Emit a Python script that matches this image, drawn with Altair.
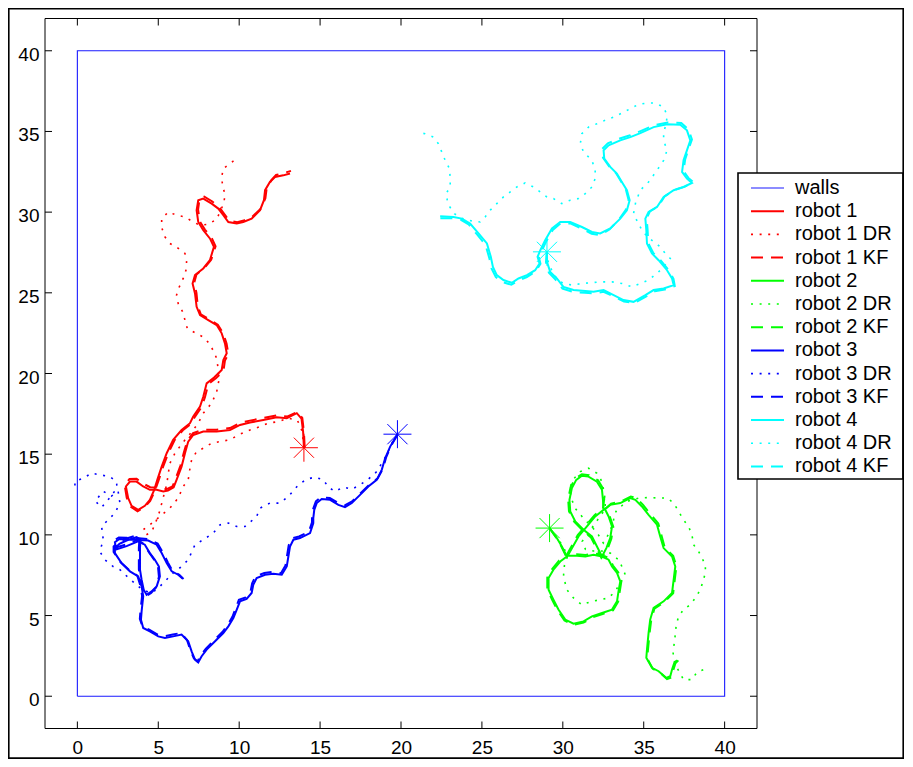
import altair as alt
import pandas as pd

TICKS = [0, 5, 10, 15, 20, 25, 30, 35, 40]

WALLS_X = [0, 40, 40, 0, 0]
WALLS_Y = [0, 0, 40, 40, 0]

# ---------------- robot 1 (red) ----------------
R1_X = [14.00, 13.95, 13.85, 13.56, 12.94, 12.32, 11.49, 10.67, 10.05, 9.43, 8.61, 7.78, 7.16, 6.85, 6.65, 6.44, 6.13, 5.95, 5.60, 5.31, 4.90, 4.48, 4.07, 3.66, 3.25, 3.00, 3.14, 3.35, 3.76, 4.17, 4.48, 4.75, 4.94, 5.21, 5.52, 5.92, 6.44, 6.96, 7.16, 7.58, 7.78, 7.99, 8.45, 8.92, 9.02, 9.23, 9.12, 8.92, 8.61, 8.09, 7.58, 7.37, 7.27, 7.12, 7.27, 7.78, 8.19, 8.44, 8.19, 7.78, 7.47, 7.37, 7.47, 7.78, 8.30, 8.71, 9.02, 9.33, 9.85, 10.25, 10.77, 11.29, 11.53, 11.60, 11.90, 12.21, 12.73, 13.14]
R1_Y = [15.40, 16.40, 17.20, 17.54, 17.23, 17.29, 17.12, 16.96, 16.81, 16.50, 16.40, 16.40, 16.19, 15.78, 15.06, 14.23, 13.41, 12.95, 12.75, 12.69, 12.79, 12.79, 13.00, 13.30, 13.30, 13.00, 12.28, 11.80, 11.55, 11.80, 12.17, 12.79, 13.41, 14.23, 15.06, 15.89, 16.50, 16.92, 17.33, 17.95, 18.56, 19.39, 19.75, 20.22, 20.84, 21.25, 21.87, 22.49, 23.00, 23.31, 23.62, 24.13, 24.96, 25.58, 26.10, 26.51, 27.02, 27.85, 28.37, 28.88, 29.39, 30.12, 30.74, 30.84, 30.53, 30.22, 29.81, 29.39, 29.29, 29.39, 29.60, 30.12, 30.74, 31.36, 31.87, 32.18, 32.28, 32.39]
R1KF_X = [14.05, 14.00, 13.90, 13.60, 12.96, 12.30, 11.47, 10.66, 10.03, 9.43, 8.60, 7.78, 7.15, 6.80, 6.58, 6.36, 6.05, 5.88, 5.58, 5.31, 4.92, 4.50, 4.08, 3.66, 3.22, 2.92, 3.05, 3.28, 3.72, 4.16, 4.50, 4.80, 5.02, 5.30, 5.62, 6.02, 6.52, 7.03, 7.24, 7.66, 7.88, 8.10, 8.56, 9.03, 9.12, 9.33, 9.22, 9.01, 8.68, 8.14, 7.63, 7.44, 7.36, 7.22, 7.36, 7.86, 8.27, 8.54, 8.30, 7.88, 7.57, 7.46, 7.55, 7.84, 8.34, 8.74, 9.05, 9.38, 9.88, 10.28, 10.80, 11.36, 11.62, 11.70, 11.99, 12.28, 12.78, 13.20]
R1KF_Y = [15.40, 16.40, 17.25, 17.62, 17.33, 17.40, 17.24, 17.08, 16.93, 16.62, 16.52, 16.52, 16.30, 15.86, 15.10, 14.26, 13.43, 13.00, 12.86, 12.82, 12.93, 12.95, 13.17, 13.47, 13.46, 13.10, 12.30, 11.76, 11.46, 11.72, 12.10, 12.75, 13.38, 14.22, 15.06, 15.89, 16.48, 16.88, 17.28, 17.90, 18.52, 19.36, 19.70, 20.17, 20.80, 21.22, 21.86, 22.50, 23.02, 23.36, 23.67, 24.17, 25.00, 25.62, 26.14, 26.54, 27.05, 27.88, 28.40, 28.92, 29.42, 30.16, 30.82, 30.96, 30.66, 30.34, 29.92, 29.48, 29.38, 29.48, 29.70, 30.24, 30.86, 31.48, 31.98, 32.30, 32.42, 32.56]
R1DR_X = [14.00, 13.90, 13.60, 13.04, 12.42, 11.80, 11.29, 10.67, 9.94, 9.43, 8.81, 8.30, 7.78, 7.37, 7.06, 6.96, 6.85, 6.54, 6.23, 5.72, 5.10, 4.48, 4.07, 4.25, 4.60, 4.85, 5.10, 5.30, 5.52, 5.62, 5.72, 6.03, 6.50, 7.00, 7.47, 7.78, 8.30, 8.61, 8.75, 8.70, 8.61, 8.40, 8.15, 7.74, 7.27, 6.79, 6.65, 6.51, 6.23, 6.13, 6.30, 6.54, 6.71, 6.75, 6.65, 6.20, 5.72, 5.41, 5.21, 5.21, 5.62, 6.13, 6.65, 7.16, 7.58, 8.09, 8.61, 9.06, 9.12, 8.98, 8.92, 9.02, 9.43, 9.85]
R1DR_Y = [15.40, 16.40, 17.10, 17.23, 17.02, 16.92, 16.71, 16.50, 16.19, 15.89, 15.78, 15.68, 15.37, 15.16, 14.65, 14.13, 13.41, 13.00, 12.28, 11.66, 11.14, 10.63, 10.32, 10.00, 10.20, 10.80, 11.50, 12.30, 13.10, 13.82, 14.44, 15.06, 15.70, 16.30, 16.92, 17.54, 18.16, 18.87, 19.60, 20.30, 20.94, 21.41, 21.87, 22.28, 22.52, 22.80, 23.31, 23.82, 24.34, 24.86, 25.37, 25.89, 26.40, 26.92, 27.44, 27.78, 28.06, 28.47, 29.05, 29.60, 30.01, 29.81, 29.70, 29.39, 29.19, 29.25, 29.56, 30.57, 31.15, 31.56, 32.18, 32.70, 33.01, 33.32]

# ---------------- robot 2 (green) ----------------
R2_X = [29.18, 29.63, 29.94, 30.25, 29.84, 29.42, 29.12, 29.12, 29.42, 29.73, 30.15, 30.66, 31.28, 31.80, 32.42, 33.04, 33.35, 33.44, 33.55, 33.35, 33.04, 32.83, 32.42, 31.90, 31.39, 30.87, 30.30, 30.97, 31.49, 32.00, 32.52, 32.48, 32.42, 32.11, 31.59, 31.18, 30.83, 30.56, 30.41, 30.46, 30.77, 31.28, 31.80, 32.11, 32.42, 32.69, 32.93, 33.04, 32.83, 32.60, 32.93, 33.55, 34.17, 34.48, 34.89, 35.30, 35.82, 36.02, 36.23, 36.75, 36.95, 36.85, 36.75, 36.23, 35.61, 35.40, 35.30, 35.20, 35.16, 35.51, 35.92, 36.39, 36.64, 36.75, 36.89, 37.06]
R2_Y = [10.42, 9.80, 9.28, 8.66, 8.35, 7.84, 7.33, 6.60, 5.98, 5.37, 4.75, 4.50, 4.64, 4.95, 5.16, 5.37, 5.88, 6.50, 7.12, 7.64, 8.04, 8.46, 8.66, 8.77, 8.66, 8.71, 8.70, 9.90, 10.52, 11.14, 11.55, 12.17, 12.79, 13.30, 13.61, 13.66, 13.41, 12.90, 12.17, 11.45, 10.83, 10.32, 9.90, 9.28, 8.66, 9.18, 9.80, 10.52, 11.14, 11.60, 11.86, 11.97, 12.28, 12.17, 11.76, 11.24, 10.63, 9.90, 9.18, 8.66, 8.04, 7.22, 6.40, 5.88, 5.47, 4.75, 3.92, 2.89, 2.38, 1.76, 1.55, 1.14, 1.24, 1.65, 2.07, 2.23]
R2KF_X = [29.18, 29.58, 29.88, 30.18, 29.76, 29.34, 29.04, 29.04, 29.34, 29.66, 30.10, 30.64, 31.28, 31.82, 32.46, 33.10, 33.42, 33.52, 33.62, 33.42, 33.10, 32.88, 32.46, 31.92, 31.40, 30.86, 30.26, 30.92, 31.44, 31.96, 32.48, 32.56, 32.50, 32.18, 31.62, 31.18, 30.78, 30.48, 30.33, 30.38, 30.70, 31.22, 31.74, 32.06, 32.38, 32.76, 33.00, 33.12, 32.90, 32.66, 32.98, 33.58, 34.20, 34.54, 34.96, 35.38, 35.90, 36.10, 36.30, 36.82, 37.02, 36.92, 36.82, 36.28, 35.66, 35.46, 35.36, 35.26, 35.22, 35.56, 35.98, 36.44, 36.70, 36.82, 36.96, 37.14]
R2KF_Y = [10.42, 9.84, 9.34, 8.72, 8.40, 7.88, 7.36, 6.62, 5.98, 5.34, 4.70, 4.42, 4.56, 4.88, 5.10, 5.32, 5.86, 6.50, 7.14, 7.68, 8.10, 8.54, 8.74, 8.86, 8.76, 8.80, 8.78, 9.98, 10.60, 11.22, 11.64, 12.22, 12.84, 13.38, 13.70, 13.76, 13.50, 12.96, 12.20, 11.46, 10.82, 10.28, 9.84, 9.22, 8.58, 9.12, 9.76, 10.50, 11.14, 11.64, 11.94, 12.06, 12.38, 12.28, 11.86, 11.32, 10.70, 9.96, 9.22, 8.70, 8.06, 7.22, 6.38, 5.84, 5.42, 4.70, 3.88, 2.86, 2.34, 1.70, 1.48, 1.06, 1.16, 1.60, 2.04, 2.22]
R2DR_X = [29.18, 29.60, 30.00, 30.30, 30.10, 30.04, 30.25, 30.66, 31.18, 31.80, 32.31, 32.83, 33.24, 33.55, 33.86, 33.65, 33.44, 32.93, 32.40, 31.90, 31.40, 31.20, 31.70, 32.20, 32.62, 32.62, 32.52, 32.42, 32.11, 31.59, 31.08, 30.70, 30.46, 30.50, 30.80, 31.30, 31.80, 32.20, 32.50, 32.80, 33.10, 33.20, 33.35, 33.96, 34.68, 35.30, 35.92, 36.44, 36.85, 37.16, 37.46, 37.77, 37.98, 38.08, 38.39, 38.60, 38.81, 38.81, 38.66, 38.50, 38.19, 37.88, 37.46, 37.16, 37.01, 36.95, 36.89, 36.81, 36.85, 37.06, 37.46, 37.98, 38.29, 38.70]
R2DR_Y = [10.42, 9.90, 9.30, 8.70, 8.10, 7.43, 6.60, 6.09, 5.67, 5.88, 5.98, 6.09, 6.50, 7.02, 7.53, 8.04, 8.46, 8.87, 9.00, 9.00, 9.10, 9.60, 10.30, 11.00, 11.60, 12.17, 12.79, 13.30, 13.82, 14.13, 13.92, 13.50, 13.00, 12.30, 11.60, 11.00, 10.50, 10.00, 9.50, 10.00, 10.70, 11.30, 11.55, 12.07, 12.28, 12.31, 12.28, 12.28, 11.97, 11.45, 10.93, 10.52, 10.01, 9.39, 8.97, 8.56, 8.15, 7.64, 7.12, 6.60, 6.09, 5.67, 5.37, 4.95, 4.44, 3.82, 3.30, 2.78, 2.27, 1.76, 1.03, 1.03, 1.49, 1.65]

# ---------------- robot 3 (blue) ----------------
R3_X = [19.78, 19.33, 19.02, 18.81, 18.50, 17.98, 17.47, 16.96, 16.54, 16.13, 15.62, 15.10, 14.79, 14.64, 14.58, 14.58, 14.38, 13.76, 13.35, 13.14, 13.04, 12.94, 12.63, 12.11, 11.60, 11.08, 10.87, 10.77, 10.46, 10.05, 9.85, 9.64, 9.33, 9.02, 8.40, 7.99, 7.68, 7.47, 7.27, 7.06, 6.85, 6.44, 5.92, 5.41, 5.00, 4.48, 4.07, 3.93, 3.97, 4.07, 3.97, 3.76, 3.25, 2.73, 2.32, 2.32, 2.60, 3.04, 3.66, 3.90, 3.87, 3.87, 3.87, 3.97, 4.10, 4.28, 4.59, 4.90, 5.10, 5.04, 4.79, 4.48, 4.17, 3.75, 3.04, 2.40, 2.32, 2.60, 3.04, 3.66, 4.38, 4.90, 5.21, 5.52, 5.83, 6.23, 6.50]
R3_Y = [16.24, 15.47, 14.75, 14.03, 13.41, 13.00, 12.48, 11.97, 11.72, 11.86, 12.17, 12.22, 11.97, 11.55, 11.04, 10.73, 10.11, 9.80, 9.70, 9.28, 8.66, 8.04, 7.53, 7.59, 7.53, 7.33, 6.91, 6.40, 6.03, 5.88, 5.37, 4.85, 4.33, 3.92, 3.30, 2.89, 2.48, 2.10, 2.27, 2.78, 3.40, 3.82, 3.71, 3.61, 3.71, 4.02, 4.23, 4.74, 5.26, 6.19, 6.81, 7.43, 7.74, 8.25, 8.87, 9.18, 9.45, 9.65, 9.86, 9.70, 9.18, 8.46, 7.84, 7.22, 6.60, 6.29, 6.50, 6.81, 7.43, 8.04, 8.46, 8.87, 9.39, 9.60, 9.30, 9.10, 9.55, 9.75, 9.72, 9.70, 9.65, 9.39, 8.87, 8.25, 7.74, 7.53, 7.30]
R3KF_X = [19.80, 19.38, 19.08, 18.88, 18.56, 18.03, 17.50, 16.98, 16.55, 16.12, 15.60, 15.06, 14.74, 14.58, 14.50, 14.50, 14.30, 13.70, 13.28, 13.06, 12.96, 12.86, 12.58, 12.06, 11.55, 11.02, 10.80, 10.70, 10.40, 9.98, 9.78, 9.58, 9.28, 8.96, 8.34, 7.93, 7.62, 7.42, 7.20, 6.98, 6.78, 6.40, 5.90, 5.38, 4.96, 4.44, 4.02, 3.86, 3.90, 4.00, 3.90, 3.70, 3.20, 2.66, 2.24, 2.24, 2.54, 3.00, 3.62, 3.84, 3.80, 3.80, 3.80, 3.90, 4.04, 4.24, 4.56, 4.86, 5.04, 4.98, 4.72, 4.42, 4.10, 3.70, 3.00, 2.34, 2.26, 2.56, 3.02, 3.64, 4.40, 4.96, 5.28, 5.60, 5.90, 6.30, 6.56]
R3KF_Y = [16.24, 15.50, 14.80, 14.10, 13.50, 13.10, 12.58, 12.08, 11.84, 11.98, 12.28, 12.34, 12.08, 11.64, 11.10, 10.78, 10.18, 9.90, 9.80, 9.36, 8.72, 8.10, 7.62, 7.70, 7.64, 7.44, 7.00, 6.48, 6.12, 5.98, 5.44, 4.92, 4.40, 3.98, 3.36, 2.94, 2.52, 2.16, 2.34, 2.86, 3.48, 3.92, 3.82, 3.72, 3.82, 4.12, 4.32, 4.80, 5.30, 6.22, 6.84, 7.48, 7.82, 8.32, 8.94, 9.28, 9.56, 9.76, 9.96, 9.80, 9.22, 8.50, 7.86, 7.24, 6.62, 6.20, 6.40, 6.74, 7.40, 8.04, 8.50, 8.92, 9.44, 9.68, 9.40, 9.20, 9.64, 9.84, 9.82, 9.80, 9.74, 9.46, 8.92, 8.28, 7.74, 7.52, 7.26]
R3DR_X = [19.78, 19.43, 19.12, 18.81, 18.50, 17.98, 17.47, 16.96, 16.44, 15.92, 15.51, 15.20, 14.69, 14.17, 13.66, 13.04, 12.52, 11.90, 11.29, 11.08, 10.36, 9.85, 9.33, 8.81, 8.40, 7.78, 7.27, 6.85, 6.44, 5.92, 5.31, 4.90, 4.48, 3.90, 3.20, 2.63, 2.21, 1.70, 1.39, 1.60, 1.50, 1.90, 2.32, 2.63, 2.52, 2.10, 1.60, 1.10, 1.50, 2.00, 2.45, 2.42, 2.01, 1.39, 0.88, 0.36, -0.15, -0.15]
R3DR_Y = [16.24, 15.68, 14.96, 14.44, 13.92, 13.45, 13.10, 12.83, 12.96, 12.69, 12.96, 13.41, 13.58, 13.45, 13.10, 12.38, 11.97, 11.97, 11.66, 11.14, 10.52, 10.52, 10.73, 10.62, 10.11, 9.70, 9.39, 8.46, 8.04, 7.64, 7.02, 6.60, 6.40, 6.70, 7.30, 7.84, 8.04, 8.46, 8.97, 9.70, 10.52, 10.93, 11.35, 11.97, 12.69, 12.40, 12.70, 12.10, 11.70, 12.30, 12.90, 13.30, 13.61, 13.72, 13.82, 13.51, 13.30, 12.79]

# ---------------- robot 4 (cyan) ----------------
R4_X = [29.02, 29.02, 29.22, 29.63, 30.04, 30.66, 31.39, 31.90, 32.52, 33.14, 33.75, 34.37, 35.10, 35.61, 36.23, 36.85, 36.75, 36.44, 35.92, 35.51, 35.20, 35.16, 35.10, 35.30, 35.82, 36.23, 36.85, 37.46, 37.98, 37.67, 37.37, 37.46, 37.67, 37.88, 37.67, 37.26, 36.44, 35.61, 34.79, 34.17, 33.55, 32.83, 32.52, 32.56, 32.93, 33.34, 33.65, 33.96, 34.13, 33.96, 33.55, 32.93, 32.31, 31.80, 31.18, 30.46, 29.84, 29.33, 28.91, 28.61, 28.44, 28.56, 28.29, 27.78, 27.26, 26.85, 26.33, 25.92, 25.68, 25.55, 25.31, 24.79, 24.27, 23.76, 23.24, 22.42]
R4_Y = [27.54, 26.92, 26.30, 25.89, 25.37, 25.17, 25.11, 25.06, 25.17, 24.86, 24.55, 24.44, 24.86, 25.17, 25.27, 25.48, 25.89, 26.40, 27.02, 27.44, 28.06, 28.88, 29.60, 30.01, 30.32, 30.94, 31.36, 31.56, 31.81, 32.08, 32.49, 33.21, 33.83, 34.45, 35.07, 35.42, 35.44, 35.27, 34.90, 34.65, 34.45, 34.14, 33.83, 33.32, 32.80, 32.39, 31.87, 31.36, 30.74, 30.12, 29.60, 28.99, 28.68, 28.77, 29.08, 29.39, 29.39, 28.99, 28.26, 27.64, 27.23, 26.82, 26.40, 26.10, 25.89, 25.62, 25.79, 26.10, 26.61, 27.23, 28.06, 28.68, 29.29, 29.60, 29.70, 29.75]
R4KF_X = [29.00, 28.96, 29.14, 29.56, 29.98, 30.62, 31.36, 31.88, 32.52, 33.16, 33.78, 34.42, 35.16, 35.68, 36.30, 36.92, 36.84, 36.54, 36.02, 35.60, 35.28, 35.24, 35.18, 35.38, 35.90, 36.30, 36.92, 37.54, 38.06, 37.76, 37.46, 37.56, 37.76, 37.98, 37.76, 37.32, 36.48, 35.64, 34.80, 34.16, 33.52, 32.78, 32.44, 32.48, 32.86, 33.28, 33.60, 33.90, 34.06, 33.88, 33.48, 32.88, 32.28, 31.78, 31.16, 30.46, 29.86, 29.38, 28.98, 28.70, 28.52, 28.62, 28.32, 27.78, 27.24, 26.82, 26.28, 25.86, 25.60, 25.46, 25.22, 24.70, 24.18, 23.68, 23.18, 22.40]
R4KF_Y = [27.54, 26.90, 26.24, 25.80, 25.26, 25.06, 25.00, 24.96, 25.06, 24.76, 24.46, 24.36, 24.78, 25.10, 25.20, 25.42, 25.86, 26.40, 27.04, 27.46, 28.08, 28.90, 29.62, 30.04, 30.36, 30.98, 31.38, 31.58, 31.86, 32.12, 32.54, 33.26, 33.88, 34.50, 35.14, 35.52, 35.56, 35.38, 35.02, 34.76, 34.56, 34.26, 33.92, 33.38, 32.84, 32.42, 31.90, 31.38, 30.76, 30.12, 29.56, 28.92, 28.58, 28.66, 28.98, 29.30, 29.30, 28.90, 28.20, 27.60, 27.20, 26.80, 26.32, 25.98, 25.76, 25.50, 25.66, 25.98, 26.50, 27.14, 27.98, 28.62, 29.24, 29.54, 29.62, 29.62]
R4DR_X = [29.02, 29.10, 29.40, 29.70, 30.04, 30.56, 31.18, 31.70, 32.31, 33.04, 33.65, 34.27, 34.79, 35.30, 35.82, 36.23, 36.64, 36.33, 36.02, 35.61, 35.20, 34.89, 34.62, 34.37, 34.50, 34.79, 35.30, 35.82, 36.23, 36.44, 36.23, 36.23, 36.40, 36.44, 36.23, 35.71, 35.20, 34.68, 34.17, 33.65, 33.14, 32.62, 32.11, 31.59, 31.18, 31.08, 31.28, 31.80, 32.00, 32.00, 31.80, 31.39, 30.97, 30.46, 29.94, 29.42, 29.02, 28.61, 28.19, 27.67, 27.16, 26.75, 26.33, 25.92, 25.51, 25.20, 24.89, 24.40, 23.80, 23.30, 22.90, 22.79, 23.04, 23.04, 22.99, 22.73, 22.52, 22.31, 22.00, 21.49, 20.98]
R4DR_Y = [27.54, 26.90, 26.20, 25.80, 25.58, 25.48, 25.58, 25.62, 25.68, 25.68, 25.58, 25.37, 25.58, 25.79, 26.20, 26.61, 27.13, 27.44, 27.85, 28.16, 28.50, 28.88, 29.39, 29.91, 30.60, 31.36, 31.87, 32.59, 33.21, 33.83, 34.45, 34.96, 35.50, 36.00, 36.51, 36.76, 36.76, 36.68, 36.41, 36.14, 35.89, 35.69, 35.48, 35.27, 34.86, 34.24, 33.73, 33.21, 32.59, 32.08, 31.56, 31.15, 30.84, 30.74, 30.53, 30.84, 30.94, 31.25, 31.56, 31.81, 31.56, 31.25, 30.94, 30.53, 30.12, 29.70, 29.39, 29.45, 29.60, 29.90, 30.50, 31.15, 31.56, 32.14, 32.70, 33.21, 33.73, 34.24, 34.65, 34.86, 34.96]

# start markers
STAR_X = [14.00, 29.18, 19.78, 29.02]
STAR_Y = [15.40, 10.42, 16.24, 27.54]
STAR_C = ["#ff0000", "#00ff00", "#0000ff", "#00ffff"]

SERIES = ["walls", "robot 1", "robot 1 DR", "robot 1 KF", "robot 2", "robot 2 DR", "robot 2 KF",
          "robot 3", "robot 3 DR", "robot 3 KF", "robot 4", "robot 4 DR", "robot 4 KF"]
COLORS = ["#1a1aff", "#ff0000", "#ff0000", "#ff0000", "#00ff00", "#00ff00", "#00ff00",
          "#0000ff", "#0000ff", "#0000ff", "#00ffff", "#00ffff", "#00ffff"]
SOLID, DOT, DASH = [1000, 0], [2, 6.6], [12, 8]
DASHES = [SOLID, SOLID, DOT, DASH, SOLID, DOT, DASH, SOLID, DOT, DASH, SOLID, DOT, DASH]
WIDTHS = [1.1, 2, 1.6, 2, 2, 1.6, 2, 2, 1.6, 2, 2, 1.6, 2]

PATHS = {
    "walls": (WALLS_X, WALLS_Y),
    "robot 1": (R1_X, R1_Y), "robot 1 DR": (R1DR_X, R1DR_Y), "robot 1 KF": (R1KF_X, R1KF_Y),
    "robot 2": (R2_X, R2_Y), "robot 2 DR": (R2DR_X, R2DR_Y), "robot 2 KF": (R2KF_X, R2KF_Y),
    "robot 3": (R3_X, R3_Y), "robot 3 DR": (R3DR_X, R3DR_Y), "robot 3 KF": (R3KF_X, R3KF_Y),
    "robot 4": (R4_X, R4_Y), "robot 4 DR": (R4DR_X, R4DR_Y), "robot 4 KF": (R4KF_X, R4KF_Y),
}

rows = []
for name in SERIES:
    xs, ys = PATHS[name]
    for i, (x, y) in enumerate(zip(xs, ys)):
        rows.append({"series": name, "i": i, "x": x, "y": y})
df = pd.DataFrame(rows)

stars_df = pd.DataFrame({"x": STAR_X, "y": STAR_Y, "c": STAR_C})
ticks_df = pd.DataFrame({"x": TICKS, "y": TICKS})
one = pd.DataFrame({"k": [0]})

W, H = 712, 710
FONT = "Liberation Sans"

SCALE = dict(domain=[-2, 42], nice=False, zero=False)
AXX = dict(values=TICKS, ticks=False, tickSize=0, domain=False, grid=False,
           labelPadding=10, title=None, format="d")
AXY = dict(values=TICKS, ticks=False, tickSize=0, domain=False, grid=False,
           labelPadding=6, labelOffset=3.5, title=None, format="d")


def X(field="x:Q"):
    return alt.X(field, scale=alt.Scale(**SCALE), axis=alt.Axis(**AXX))


def Y(field="y:Q"):
    return alt.Y(field, scale=alt.Scale(**SCALE), axis=alt.Axis(**AXY))


LEG = dict(orient="none", legendX=705, legendY=158.0, title=None, symbolType="stroke",
           symbolSize=1089, labelFontSize=20, labelFont=FONT, labelColor="black",
           labelOffset=10, clipHeight=23, rowPadding=0.2, padding=0, labelLimit=300)

frame = alt.Chart(one).mark_rect(fillOpacity=0, stroke="black", strokeWidth=1).encode(
    x=alt.value(0), x2=alt.value(W), y=alt.value(0), y2=alt.value(H))

lines = alt.Chart(df).mark_line().encode(
    x=X(), y=Y(),
    color=alt.Color("series:N", scale=alt.Scale(domain=SERIES, range=COLORS), legend=alt.Legend(**LEG)),
    strokeDash=alt.StrokeDash("series:N", scale=alt.Scale(domain=SERIES, range=DASHES), legend=alt.Legend(**LEG)),
    strokeWidth=alt.StrokeWidth("series:N", scale=alt.Scale(type="ordinal", domain=SERIES, range=WIDTHS),
                                legend=alt.Legend(**LEG)),
    order=alt.Order("i:Q"),
)

tick_b = alt.Chart(ticks_df).mark_rule(color="black", strokeWidth=1).encode(
    x=X(), y=alt.value(H), y2=alt.value(H - 7))
tick_t = alt.Chart(ticks_df).mark_rule(color="black", strokeWidth=1).encode(
    x=X(), y=alt.value(0), y2=alt.value(7))
tick_l = alt.Chart(ticks_df).mark_rule(color="black", strokeWidth=1).encode(
    y=Y(), x=alt.value(0), x2=alt.value(7))
tick_r = alt.Chart(ticks_df).mark_rule(color="black", strokeWidth=1).encode(
    y=Y(), x=alt.value(W), x2=alt.value(W - 7))

STAR_SHAPE = "M-1,0L1,0M0,-1L0,1M-0.72,-0.72L0.72,0.72M-0.72,0.72L0.72,-0.72"
stars = alt.Chart(stars_df).mark_point(shape=STAR_SHAPE, size=784, filled=False,
                                        strokeWidth=1, opacity=1).encode(
    x=X(), y=Y(),
    stroke=alt.Stroke("c:N", scale=None),
)

legend_box = alt.Chart(one).mark_rect(fill="white", stroke="black", strokeWidth=1.6).encode(
    x=alt.value(693), x2=alt.value(858), y=alt.value(154.5), y2=alt.value(460.5))

outer = alt.Chart(one).mark_rect(fillOpacity=0, stroke="black", strokeWidth=1.6).encode(
    x=alt.value(-36.2), x2=alt.value(858.2), y=alt.value(-9.7), y2=alt.value(739.6))

chart = alt.layer(lines, frame, tick_b, tick_t, tick_l, tick_r, stars, legend_box, outer).properties(
    width=W, height=H,
    autosize=alt.AutoSizeParams(type="none"),
    padding={"left": 37, "top": 10.5, "right": 147, "bottom": 30.5},
).configure_view(strokeWidth=0).configure_axis(
    labelFont=FONT, labelFontSize=19, labelColor="black"
)

chart.save("out.html", embed_options={"renderer": "svg", "actions": False})
